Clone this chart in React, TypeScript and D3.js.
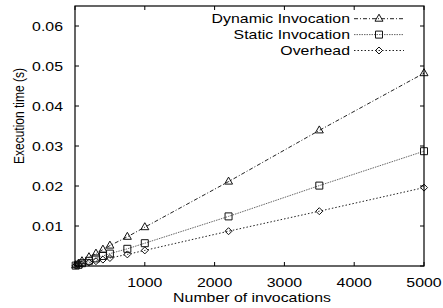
import * as d3 from 'd3';

// invocation counts and timings (seconds)
const invocations = [10, 50, 100, 200, 300, 400, 500, 750, 1000, 2200, 3500, 5000];
const dynamicTimes = [0.0002, 0.0006, 0.0012, 0.0022, 0.0031, 0.0041, 0.0051, 0.0073, 0.0097, 0.0211, 0.0339, 0.0482];
const staticTimes = [0.0001, 0.0003, 0.0007, 0.0013, 0.0019, 0.0025, 0.0031, 0.0043, 0.0057, 0.0124, 0.0201, 0.0287];
const overheadTimes = [0.0001, 0.0003, 0.0005, 0.0009, 0.0012, 0.0016, 0.002, 0.0029, 0.0039, 0.0087, 0.0137, 0.0196];

const xTicks = [0, 1000, 2000, 3000, 4000, 5000];
const yTicks = [0, 0.01, 0.02, 0.03, 0.04, 0.05, 0.06];

type Marker = 'triangle' | 'square' | 'diamond';

const seriesList: { name: string; values: number[]; marker: Marker; stroke: string; dash: string }[] = [
  { name: 'Dynamic Invocation', values: dynamicTimes, marker: 'triangle', stroke: '#222', dash: '4,2,1,2' },
  { name: 'Static Invocation', values: staticTimes, marker: 'square', stroke: '#666', dash: '1.5,1' },
  { name: 'Overhead', values: overheadTimes, marker: 'diamond', stroke: '#222', dash: '1.5,2' },
];

const W = 443;
const H = 308;
const margin = { top: 6, right: 19, bottom: 42, left: 75 };
const SX = 1.22; // the original text is stretched sideways
const FONT = 'Liberation Sans, Arial, sans-serif';

function markerPath(kind: Marker, x: number, y: number) {
  if (kind === 'triangle') return `M${x},${y - 4.5}L${x + 4},${y + 2.5}L${x - 4},${y + 2.5}Z`;
  if (kind === 'square') return `M${x - 3.5},${y - 3.5}h7v7h-7Z`;
  return `M${x},${y - 3.5}L${x + 3.5},${y}L${x},${y + 3.5}L${x - 3.5},${y}Z`;
}

function Label({ x, y, anchor, children, size = 13 }: { x: number; y: number; anchor: string; children: string; size?: number }) {
  return (
    <text transform={`translate(${x},${y}) scale(${SX},1)`} textAnchor={anchor} fontSize={size} fontFamily={FONT} fill="#000">
      {children}
    </text>
  );
}

export default function App() {
  const x0 = margin.left;
  const x1 = W - margin.right;
  const y0 = H - margin.bottom;
  const y1 = margin.top;

  const x = d3.scaleLinear().domain([0, 5000]).range([x0, x1]);
  const y = d3.scaleLinear().domain([0, 0.065]).range([y0, y1]);

  const line = d3
    .line<number>()
    .x((_, i) => x(invocations[i]))
    .y((d) => y(d));

  const tick = 4;

  return (
    <>
      <style>{'body{margin:0}'}</style>
      <svg width={W} height={H} style={{ display: 'block', background: '#fff' }}>
        {/* data lines */}
        {seriesList.map((s) => (
          <g key={s.name}>
            <path d={line(s.values) ?? ''} fill="none" stroke={s.stroke} strokeWidth={1} strokeDasharray={s.dash} />
            {s.values.map((v, i) => (
              <path key={i} d={markerPath(s.marker, x(invocations[i]), y(v))} fill="none" stroke="#111" strokeWidth={1} />
            ))}
          </g>
        ))}

        {/* ticks, mirrored on all sides */}
        {xTicks.map((t) => (
          <g key={'x' + t}>
            <line x1={x(t)} x2={x(t)} y1={y0} y2={y0 - tick} stroke="#000" />
            <line x1={x(t)} x2={x(t)} y1={y1} y2={y1 + tick} stroke="#000" />
            {t > 0 && (
              <Label x={x(t)} y={287} anchor="middle">
                {String(t)}
              </Label>
            )}
          </g>
        ))}
        {yTicks.map((t) => (
          <g key={'y' + t}>
            <line x1={x0} x2={x0 + tick} y1={y(t)} y2={y(t)} stroke="#000" />
            <line x1={x1} x2={x1 - tick} y1={y(t)} y2={y(t)} stroke="#000" />
            {t > 0 && (
              <Label x={63} y={y(t) + 4.5} anchor="end">
                {d3.format('.2f')(t)}
              </Label>
            )}
          </g>
        ))}

        <rect x={x0} y={y1} width={x1 - x0} height={y0 - y1} fill="none" stroke="#000" strokeWidth={1.2} />

        {/* axis titles */}
        <Label x={252} y={302} anchor="middle">
          Number of invocations
        </Label>
        <text
          transform={`translate(24,116) scale(${SX},1) rotate(-90)`}
          textAnchor="middle"
          fontSize={12}
          fontFamily={FONT}
        >
          Execution time (s)
        </text>

        {/* legend */}
        {seriesList.map((s, i) => {
          const base = 23.2 + i * 15.9;
          const ly = base - 4.5;
          return (
            <g key={'lg' + s.name}>
              <Label x={350} y={base} anchor="end">
                {s.name}
              </Label>
              <line x1={354} x2={404} y1={ly} y2={ly} stroke={s.stroke} strokeDasharray={s.dash} />
              <path d={markerPath(s.marker, 379, ly)} fill="none" stroke="#111" />
            </g>
          );
        })}
      </svg>
    </>
  );
}
